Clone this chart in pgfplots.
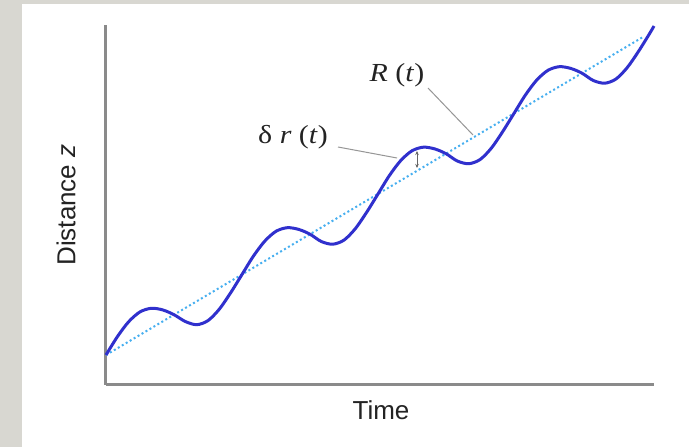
\documentclass[border=0pt]{standalone}
\usepackage{pgfplots}
\pgfplotsset{compat=1.18}
\usepackage{fontspec}
\setmainfont{Liberation Sans}
\newfontfamily\serif[FakeStretch=1.15]{Liberation Serif}
\usetikzlibrary{arrows.meta}
\definecolor{bggray}{RGB}{216,215,209}
\definecolor{axisgray}{RGB}{138,138,138}
\definecolor{curveblue}{RGB}{48,48,205}
\definecolor{lineblue}{RGB}{70,175,240}
\definecolor{leadgray}{RGB}{150,150,150}
\definecolor{txt}{RGB}{35,35,35}
\begin{document}
\begin{tikzpicture}
\fill[bggray] (0,0) rectangle (689pt,447pt);
\fill[white] (22pt,0) rectangle (689pt,443pt);
\begin{axis}[
  at={(106pt,62pt)}, anchor=south west,
  scale only axis, width=548pt, height=360pt,
  xmin=106, xmax=654, ymin=62, ymax=422,
  axis lines*=left,
  xtick=\empty, ytick=\empty,
  clip=false,
  axis line style={draw=axisgray, line width=3pt},
  xlabel={Time},
  ylabel={Distance \textit{z}},
  xlabel style={at={(axis cs:381,37)}, anchor=center, font=\fontsize{26}{29}\selectfont, text=txt},
  ylabel style={at={(axis cs:66,242)}, anchor=center, font=\fontsize{26}{29}\selectfont, text=txt},
]
% straight trend R(t)
\addplot[lineblue, line width=2pt, dash pattern=on 2pt off 2.6pt] coordinates {(106,92) (643,410)};
% oscillating path
\addplot[curveblue, line width=3pt, smooth] coordinates {
(106.0,92.0) (117.3,110.2) (128.7,125.3) (140.0,135.1) (151.3,138.7) (162.7,137.1)
(174.0,132.3) (185.3,125.5) (196.7,122.3) (208.0,126.4) (219.3,137.8) (230.7,154.3)
(242.0,172.5) (253.3,190.7) (264.7,205.8) (276.0,215.7) (287.3,219.3) (298.7,217.6)
(310.0,212.8) (321.3,205.5) (332.7,202.8) (344.0,206.9) (355.3,218.3) (366.7,234.8)
(378.0,253.0) (389.3,271.3) (400.7,286.4) (412.0,296.2) (423.3,299.8) (434.7,298.1)
(446.0,293.3) (457.3,286.0) (468.7,283.3) (480.0,287.4) (491.3,298.8) (502.7,315.4)
(514.0,333.6) (525.3,351.8) (536.7,366.9) (548.0,376.7) (559.3,380.3) (570.7,378.6)
(582.0,373.8) (593.3,366.5) (604.7,363.8) (616.0,368.0) (627.3,379.5) (638.7,395.9)
(650.0,414.1) (654.0,421.0)};
% annotations
\draw[leadgray, line width=1pt] (axis cs:428,359) -- (axis cs:473,312);
\draw[leadgray, line width=1pt] (axis cs:338,300) -- (axis cs:397,289);
\draw[{Stealth[length=4pt,width=3.5pt]}-{Stealth[length=4pt,width=3.5pt]}, line width=0.8pt, black!60] (axis cs:417,296) -- (axis cs:417,279);
\node[text=txt, font=\serif\fontsize{26}{29}\selectfont] at (axis cs:397,372) {\textit{R} (\textit{t})};
\node[text=txt, font=\serif\fontsize{26}{29}\selectfont] at (axis cs:293,310) {δ \textit{r} (\textit{t})};
\end{axis}
\pgfresetboundingbox
\useasboundingbox (0,0) rectangle (689pt,447pt);
\end{tikzpicture}
\end{document}
